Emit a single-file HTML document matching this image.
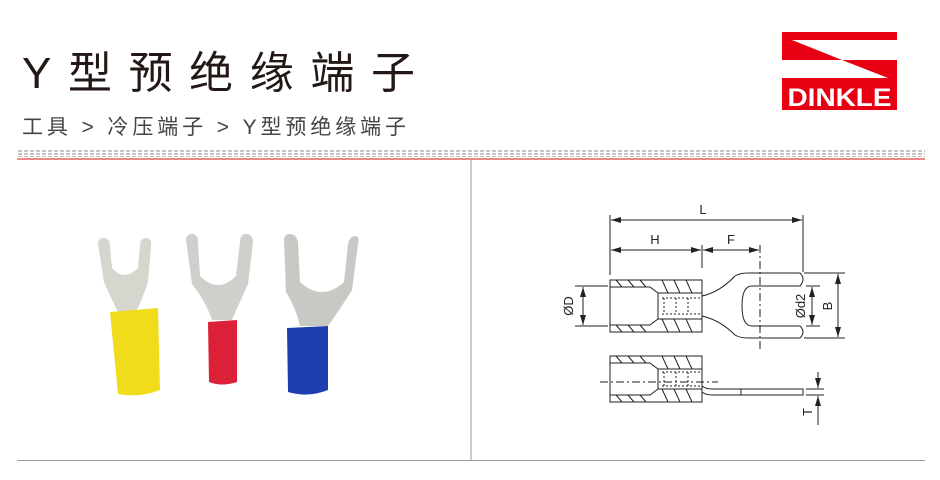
<!DOCTYPE html>
<html><head><meta charset="utf-8"><style>
html,body{margin:0;padding:0;background:#fff;}
svg{display:block;}
.cjk{font-family:"Liberation Sans","Noto Sans CJK SC",sans-serif;}
</style></head><body>
<svg width="940" height="480" viewBox="0 0 940 480" xmlns="http://www.w3.org/2000/svg">
<defs>
<pattern id="dash" width="6" height="3" patternUnits="userSpaceOnUse">
<rect x="0" y="0" width="4" height="2" fill="#c4c4c8"/>
</pattern>
<marker id="ar" markerWidth="10" markerHeight="6" refX="10" refY="3" orient="auto-start-reverse" markerUnits="userSpaceOnUse">
<path d="M0,0 L10,3 L0,6 Z" fill="#222"/>
</marker>
</defs>
<!-- Title -->
<text x="22" y="88" class="cjk" font-size="44" fill="#231815" textLength="393" lengthAdjust="spacing">Y型预绝缘端子</text>
<text x="22" y="134" class="cjk" font-size="21" fill="#444" textLength="384" lengthAdjust="spacing">工具 &gt; 冷压端子 &gt; Y型预绝缘端子</text>
<!-- Logo -->
<rect x="782" y="32" width="115" height="78" fill="#e60012"/>
<polygon points="792,40 897,40 897,60 842,60" fill="#fff"/>
<polygon points="782,60 842,60 888,78 782,78" fill="#fff"/>
<text x="839.5" y="106" text-anchor="middle" font-family="Liberation Sans,sans-serif" font-weight="bold" font-size="25" fill="#fff" textLength="104" lengthAdjust="spacingAndGlyphs">DINKLE</text>
<!-- separator -->
<rect x="17" y="149" width="908" height="8" fill="url(#dash)"/>
<rect x="17" y="158" width="908" height="2" fill="#ee8a86"/>
<line x1="471" y1="160" x2="471" y2="460" stroke="#999" stroke-width="1"/>
<line x1="17" y1="460.5" x2="925" y2="460.5" stroke="#999" stroke-width="1"/>
<!-- photo -->
<g>
<path d="M98,244 Q98,238 104,238 Q110,238 110,246 L112,268 Q124,282 138,268 L140,246 Q140,238 146,238 Q152,238 151,246 L148,282 Q142,300 136,312 L118,312 Q110,296 104,282 Z" fill="#d6d6cf"/>
<path d="M110,312 L158,308 L160,390 Q140,398 118,394 Z" fill="#f1dc1c"/>
<path d="M186,240 Q186,234 192,234 Q198,234 198,242 L200,276 Q218,294 236,276 L240,242 Q240,234 246,234 Q253,234 253,242 L248,284 Q238,306 232,320 L212,320 Q206,302 192,284 Z" fill="#cfcfcb"/>
<path d="M208,322 L237,320 L237,382 Q222,387 209,382 Z" fill="#dc2038"/>
<path d="M284,240 Q284,234 290,234 Q296,234 298,242 L300,282 Q322,302 344,282 L348,244 Q350,236 355,236 Q360,236 358,244 L352,290 Q338,312 328,326 L300,326 Q296,308 286,292 Z" fill="#c8c8c4"/>
<path d="M287,328 L328,326 L328,390 Q308,398 288,392 Z" fill="#1f3fb0"/>
</g>
<!-- drawing -->
<g stroke="#222" stroke-width="1" fill="none">
<line x1="610" y1="215" x2="610" y2="275"/>
<line x1="803" y1="215" x2="803" y2="272"/>
<line x1="611" y1="220" x2="802" y2="220" marker-start="url(#ar)" marker-end="url(#ar)"/>
<line x1="611" y1="250" x2="701" y2="250" marker-start="url(#ar)" marker-end="url(#ar)"/>
<line x1="703" y1="250" x2="759" y2="250" marker-start="url(#ar)" marker-end="url(#ar)"/>
<line x1="702" y1="245" x2="702" y2="268"/>
<line x1="760" y1="245" x2="760" y2="352" stroke-dasharray="8,3,2,3"/>
<!-- top terminal -->
<rect x="610" y="280" width="92" height="52"/>
<path d="M610,287 L650,287 L658,293 L702,293 M610,325 L650,325 L658,319 L702,319"/>
<path d="M658,293 L658,319"/>
<path d="M662,298 L702,298 M662,314 L702,314 M664,298 L664,314 M676,298 L676,314 M688,298 L688,314" stroke-dasharray="2,2"/>
<path d="M616,280 L622,287 M628,280 L634,287 M640,280 L646,287 M662,280 L668,293 M674,280 L680,293 M686,280 L692,293 M616,325 L622,332 M628,325 L634,332 M640,325 L646,332 M662,319 L668,332 M674,319 L680,332 M686,319 L692,332"/>
<path d="M702,296 Q720,292 735,276 Q740,273 748,273 L800,273 Q806,279 800,286 L752,286 Q742,286 742,306 Q742,326 752,326 L800,326 Q806,332 800,338 L748,338 Q740,338 735,335 Q720,320 702,316"/>
<!-- ØD -->
<line x1="575" y1="286" x2="608" y2="286"/>
<line x1="575" y1="326" x2="608" y2="326"/>
<line x1="583" y1="287" x2="583" y2="325" marker-start="url(#ar)" marker-end="url(#ar)"/>
<!-- d2, B -->
<line x1="806" y1="286" x2="820" y2="286"/>
<line x1="806" y1="326" x2="820" y2="326"/>
<line x1="812" y1="287" x2="812" y2="325" marker-start="url(#ar)" marker-end="url(#ar)"/>
<line x1="804" y1="273" x2="845" y2="273"/>
<line x1="804" y1="338" x2="845" y2="338"/>
<line x1="838" y1="274" x2="838" y2="337" marker-start="url(#ar)" marker-end="url(#ar)"/>
<!-- bottom terminal -->
<rect x="610" y="356" width="92" height="46"/>
<path d="M610,363 L650,363 L658,369 L702,369 M610,395 L650,395 L658,389 L702,389 M658,369 L658,389"/>
<path d="M664,372 L664,386 M676,372 L676,386 M688,372 L688,386 M662,372 L702,372 M662,386 L702,386" stroke-dasharray="2,2"/>
<path d="M616,356 L622,363 M628,356 L634,363 M640,356 L646,363 M662,356 L668,369 M674,356 L680,369 M686,356 L692,369 M616,395 L622,402 M628,395 L634,402 M640,395 L646,402 M662,389 L668,402 M674,389 L680,402 M686,389 L692,402"/>
<line x1="600" y1="382" x2="718" y2="382" stroke-dasharray="8,3,2,3"/>
<path d="M702,386 Q706,389 712,389 L803,389 L803,395 L712,395 Q706,395 702,392"/>
<line x1="741" y1="389" x2="741" y2="395"/>
<line x1="806" y1="389" x2="824" y2="389"/>
<line x1="806" y1="395" x2="824" y2="395"/>
<line x1="818" y1="372" x2="818" y2="388" marker-end="url(#ar)"/>
<line x1="818" y1="425" x2="818" y2="396" marker-end="url(#ar)"/>
</g>
<g font-family="Liberation Sans,sans-serif" font-size="13" fill="#222">
<text x="703" y="214" text-anchor="middle">L</text>
<text x="655" y="244" text-anchor="middle">H</text>
<text x="731" y="244" text-anchor="middle">F</text>
<text transform="translate(573,306) rotate(-90)" text-anchor="middle">ØD</text>
<text transform="translate(805,306) rotate(-90)" text-anchor="middle">Ød2</text>
<text transform="translate(832,306) rotate(-90)" text-anchor="middle">B</text>
<text transform="translate(812,412) rotate(-90)" text-anchor="middle">T</text>
</g>
</svg>
</body></html>
